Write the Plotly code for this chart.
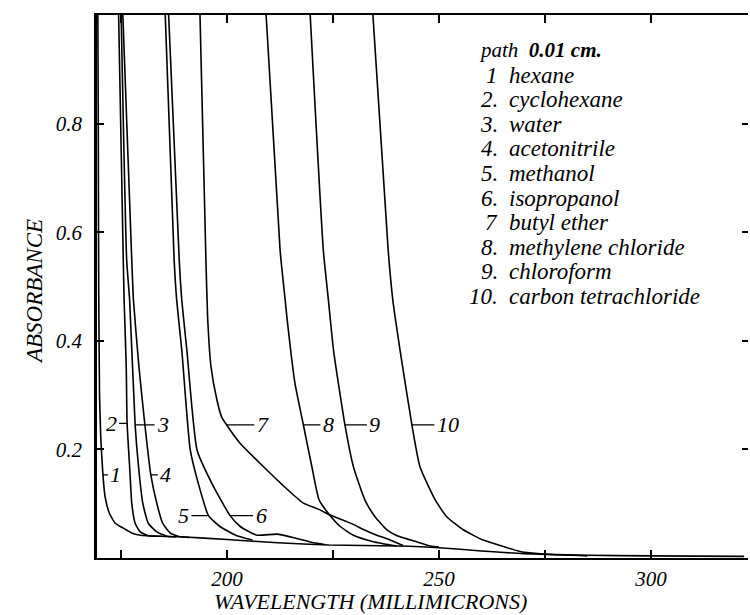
import numpy as np
import plotly.graph_objects as go

# ---------------- data ----------------
X_TICKS = [175, 200, 225, 250, 275, 300]
X_TICK_TEXT = ["", "200", "", "250", "", "300"]
Y_TICKS = [0.2, 0.4, 0.6, 0.8]
Y_TICK_TEXT = ["0.2", "0.4", "0.6", "0.8"]

NUMBERS = ["1", "2.", "3.", "4.", "5.", "6.", "7", "8.", "9.", "10."]
NAMES = ["hexane", "cyclohexane", "water", "acetonitrile", "methanol",
         "isopropanol", "butyl ether", "methylene chloride", "chloroform",
         "carbon tetrachloride"]
CURVE_LABELS = ["1", "2", "3", "4", "5", "6", "7", "8", "9", "10"]

hexane_wl = [169.5, 169.6, 169.7, 169.9, 170.2, 170.7, 171.2, 172.2, 173.6, 175.5,
             177.5, 179.5, 181, 184, 189, 200, 212, 224, 240, 250, 260, 270, 285, 300, 322]
hexane_a = [1.0, 0.8, 0.5, 0.3, 0.22, 0.153, 0.113, 0.083, 0.064, 0.055,
            0.046, 0.042, 0.041, 0.040, 0.039, 0.034, 0.028, 0.024, 0.022, 0.019,
            0.013, 0.008, 0.005, 0.004, 0.003]

cyclohexane_wl = [174.4, 175.5, 175.7, 176.2, 176.4, 177.0, 177.5, 178.3, 179.5, 181.4, 184.5]
cyclohexane_a = [1.0, 0.549, 0.475, 0.352, 0.248, 0.168, 0.101, 0.064, 0.048, 0.041, 0.040]

water_wl = [175.0, 176.3, 177.0, 178.3, 179.1, 180.1, 181.4, 183.4, 185.8, 188.0]
water_a = [1.0, 0.549, 0.475, 0.245, 0.168, 0.101, 0.064, 0.048, 0.040, 0.039]

acetonitrile_wl = [175.4, 177.5, 177.9, 179.2, 180.6, 182.0, 183.4, 184.8, 186.6, 188.9, 191.0]
acetonitrile_a = [1.0, 0.549, 0.475, 0.352, 0.245, 0.153, 0.101, 0.064, 0.046, 0.039, 0.038]

methanol_wl = [185.4, 187.5, 188.1, 189.3, 191.3, 193.2, 195.6, 198.3, 202.0, 206.0]
methanol_a = [1.0, 0.549, 0.475, 0.383, 0.199, 0.1375, 0.078, 0.058, 0.042, 0.033]

isopropanol_wl = [186.2, 188.7, 189.3, 190.5, 192.9, 196.4, 200.7, 203.1, 207.0, 211.7, 216.0, 220.4, 223.0]
isopropanol_a = [1.0, 0.549, 0.475, 0.383, 0.199, 0.1375, 0.078, 0.058, 0.042, 0.044, 0.037, 0.028, 0.025]

butyl_ether_wl = [193.6, 195.0, 195.4, 196.2, 197.6, 198.7, 199.9, 203.1, 208.6, 213.0, 218.0,
                  221.5, 224.3, 228.2, 230.0, 232.3, 235.3, 238.2, 241.5]
butyl_ether_a = [1.0, 0.549, 0.444, 0.352, 0.291, 0.26, 0.245, 0.211, 0.168, 0.135, 0.101,
                 0.09, 0.079, 0.067, 0.061, 0.052, 0.042, 0.034, 0.023]

methylene_chloride_wl = [209.2, 212.5, 213.7, 214.1, 216.0, 218.0, 220.0, 221.7, 223.9, 226.7,
                         229.8, 234.5, 240.0]
methylene_chloride_a = [1.0, 0.567, 0.475, 0.444, 0.322, 0.245, 0.168, 0.107, 0.082, 0.058,
                        0.042, 0.030, 0.022]

chloroform_wl = [219.6, 222.7, 223.9, 225.1, 227.8, 229.8, 232.5, 234.9, 237.7, 240.8, 244.7, 248.0, 250.0]
chloroform_a = [1.0, 0.567, 0.475, 0.383, 0.245, 0.168, 0.107, 0.076, 0.052, 0.039, 0.030, 0.022, 0.020]

ccl4_wl = [234.4, 238.0, 239.1, 240.8, 243.6, 245.5, 249.1, 251.8, 255.7, 260.4, 265.2, 269.1, 275.4, 285.0]
ccl4_a = [1.0, 0.567, 0.475, 0.383, 0.245, 0.168, 0.107, 0.076, 0.052, 0.033, 0.021, 0.012, 0.007, 0.004]

CURVES = [
    (hexane_wl, hexane_a), (cyclohexane_wl, cyclohexane_a), (water_wl, water_a),
    (acetonitrile_wl, acetonitrile_a), (methanol_wl, methanol_a),
    (isopropanol_wl, isopropanol_a), (butyl_ether_wl, butyl_ether_a),
    (methylene_chloride_wl, methylene_chloride_a), (chloroform_wl, chloroform_a),
    (ccl4_wl, ccl4_a),
]

# label absorbance level on each curve
LABEL_A = [0.153, 0.248, 0.245, 0.153, 0.078, 0.078, 0.245, 0.245, 0.245, 0.245]

# ---------------- style ----------------
FONT = '"Liberation Serif", "Times New Roman", Times, "DejaVu Serif", serif'
LABEL_DX = [13, -16, 28, 15, -25, 31, 36, 25, 30, 36]  # text offset (px)

W, H = 750, 615
ML, MR, MT, MB = 97, 2, 15, 57
PW, PH = W - ML - MR, H - MT - MB
X_RANGE = [169.3, 322.9]
Y_RANGE = [0.0, 1.0]


def px_to_paper_x(px):
    return (px - ML) / PW


def px_to_paper_y(py):
    return (H - MB - py) / PH


def wl_at(wl, a, level):
    for i in range(len(a) - 1):
        a0, a1 = a[i], a[i + 1]
        if (a0 - level) * (a1 - level) <= 0 and a0 != a1:
            t = (level - a0) / (a1 - a0)
            return wl[i] + t * (wl[i + 1] - wl[i])
    return wl[-1]


fig = go.Figure()
for (wl, a), name in zip(CURVES, NAMES):
    fig.add_trace(go.Scatter(x=wl, y=a, mode="lines", name=name,
                             line=dict(color="black", width=1.6, shape="spline", smoothing=0.5),
                             showlegend=False, hoverinfo="skip"))

# invisible trace for the right-hand tick axis
fig.add_trace(go.Scatter(x=[hexane_wl[0]], y=[hexane_a[0]], yaxis="y2", mode="lines",
                         line=dict(width=0), showlegend=False, hoverinfo="skip"))

ital = dict(family=FONT, size=21, color="black", style="italic")
ital_lab = dict(family=FONT, size=22, color="black", style="italic")
ital_key = dict(family=FONT, size=23, color="black", style="italic")

annotations = []
for (wl, a), lab, lev, dx in zip(CURVES, CURVE_LABELS, LABEL_A, LABEL_DX):
    annotations.append(dict(
        x=wl_at(wl, a, lev), y=lev, xref="x", yref="y", text=lab,
        showarrow=True, arrowhead=0, arrowwidth=1.3, arrowcolor="black",
        ax=dx, ay=0, standoff=0, startstandoff=1, font=ital_lab))

# key block
annotations.append(dict(
    x=px_to_paper_x(477), y=px_to_paper_y(50), xref="paper", yref="paper",
    xanchor="left", yanchor="middle", showarrow=False,
    text="path&nbsp;&nbsp;<b>0.01 cm.</b>", font=ital))
for i, (num, name) in enumerate(zip(NUMBERS, NAMES)):
    ypx = 75 + i * 24.6
    annotations.append(dict(
        x=px_to_paper_x(500), y=px_to_paper_y(ypx), xref="paper", yref="paper",
        xanchor="right", yanchor="middle", showarrow=False, text=num, font=ital_key))
    annotations.append(dict(
        x=px_to_paper_x(507), y=px_to_paper_y(ypx), xref="paper", yref="paper",
        xanchor="left", yanchor="middle", showarrow=False, text=name, font=ital_key))

# axis titles
annotations.append(dict(
    x=px_to_paper_x(35), y=px_to_paper_y(292), xref="paper", yref="paper",
    xanchor="center", yanchor="middle", showarrow=False, textangle=-90,
    text="ABSORBANCE", font=dict(family=FONT, size=23, color="black", style="italic")))
annotations.append(dict(
    x=px_to_paper_x(370), y=px_to_paper_y(601), xref="paper", yref="paper",
    xanchor="center", yanchor="middle", showarrow=False,
    text="WAVELENGTH (MILLIMICRONS)",
    font=dict(family=FONT, size=22, color="black", style="italic")))

fig.update_layout(
    width=W, height=H,
    margin=dict(l=ML, r=MR, t=MT, b=MB, pad=0),
    paper_bgcolor="white", plot_bgcolor="white",
    showlegend=False,
    xaxis=dict(range=X_RANGE, tickvals=X_TICKS, ticktext=X_TICK_TEXT,
               ticks="inside", ticklen=8, tickwidth=1.5, tickcolor="black",
               showline=True, linewidth=2.2, linecolor="black", mirror="ticks",
               showgrid=False, zeroline=False, tickfont=ital,
               ticklabelstandoff=1),
    yaxis=dict(range=Y_RANGE, tickvals=Y_TICKS, ticktext=Y_TICK_TEXT,
               ticks="inside", ticklen=7, tickwidth=1.5, tickcolor="black",
               showline=True, linewidth=2.5, linecolor="black", mirror=False,
               showgrid=False, zeroline=False, tickfont=ital,
               ticklabelstandoff=8),
    yaxis2=dict(range=Y_RANGE, overlaying="y", side="right", tickvals=Y_TICKS,
                showticklabels=False, ticks="inside", ticklen=6, tickwidth=1.5,
                tickcolor="black", showline=False, showgrid=False, zeroline=False),
    annotations=annotations,
)

fig.write_html("out.html")
